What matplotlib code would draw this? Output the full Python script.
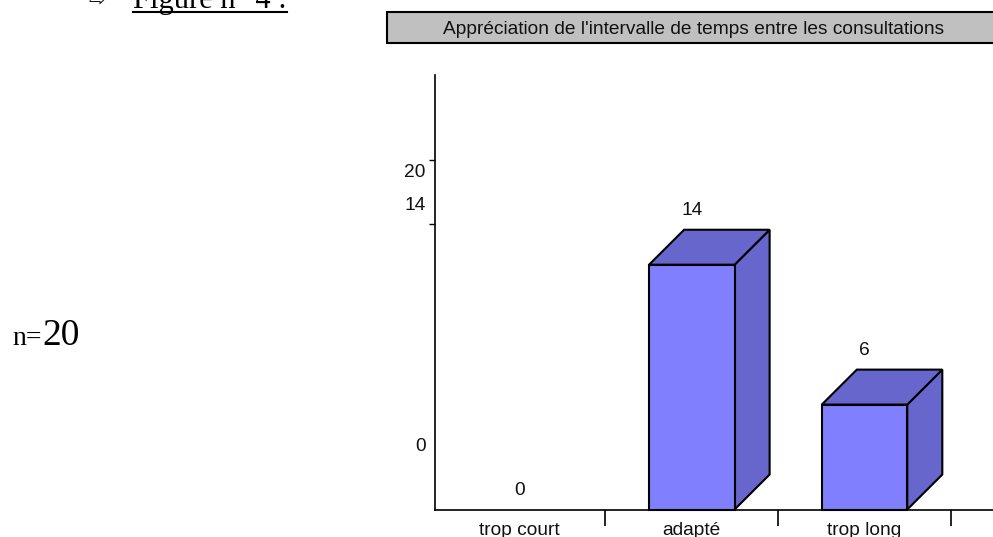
import matplotlib
matplotlib.use('Agg')
import matplotlib.pyplot as plt
from matplotlib.patches import Polygon, Rectangle

# Values
categories = ['trop court', 'adapté', 'trop long']
values = [0, 14, 6]
tick_values = [16.3, 20]
side_labels = ['0', '14', '20']
side_label_pos = [3.6, 17.4, 19.3]

title = "Appréciation de l'intervalle de temps entre les consultations"
front_color = '#8080FF'
side_color = '#6666CC'
W, H = 993, 537

plt.rcParams['font.family'] = ['Liberation Sans', 'DejaVu Sans']
fig = plt.figure(figsize=(W / 100, H / 100), dpi=100)

# axes placed in pixels, y axis at x=434, baseline at y=509
ax = fig.add_axes([434.5 / W, (H - 509.5) / H, (W - 434.5) / W, 434.5 / H])
ax.set_xlim(-0.49, 2.744)
ax.set_ylim(0, 24.85)

bar_w = 0.495
dx = 0.203  # depth of the 3D effect
dy = 2.0

for i, v in enumerate(values):
    # a zero bar is not drawn, only its label
    if v > 0:
        l, r = i - bar_w / 2, i + bar_w / 2
        ax.add_patch(Polygon([(r, 0), (r + dx, dy), (r + dx, v + dy), (r, v)],
                             facecolor=side_color, edgecolor='black', lw=1.5, clip_on=False, zorder=3))
        ax.add_patch(Polygon([(l, v), (l + dx, v + dy), (r + dx, v + dy), (r, v)],
                             facecolor=side_color, edgecolor='black', lw=1.5, clip_on=False, zorder=3))
        ax.add_patch(Rectangle((l, 0), bar_w, v, facecolor=front_color, edgecolor='black',
                               lw=1.5, clip_on=False, zorder=4))
        label_y = v + dy + 1.1
    else:
        label_y = v + 1.1
    ax.text(i, label_y, str(v), ha='center', va='center', fontsize=13.8, color='#111111')

for s, p in zip(side_labels, side_label_pos):
    ax.text(-0.54, p, s, ha='right', va='center', fontsize=13.8, color='#111111')

for side in ['top', 'right']:
    ax.spines[side].set_visible(False)
for side in ['left', 'bottom']:
    ax.spines[side].set_linewidth(1.2)

ax.set_yticks(tick_values)
ax.set_yticklabels([])
ax.tick_params(axis='y', length=4, width=1, direction='out')
ax.set_xticks([0.5, 1.5, 2.5])
ax.set_xticklabels([])
ax.tick_params(axis='x', length=11.5, width=1.2, direction='out')

for i, c in enumerate(categories):
    ax.annotate(c, (i, 0), xytext=(0, -15), textcoords='offset points', ha='center', va='center',
                fontsize=13.8, color='#111111', annotation_clip=False)

# title box across the top
fig.add_artist(Rectangle((387 / W, (H - 43) / H), (W - 387 + 5) / W, 31 / H, transform=fig.transFigure,
                         facecolor='#C0C0C0', edgecolor='black', lw=1.5))
fig.text(694 / W, (H - 29.5) / H, title, ha='center', va='center', fontsize=13.8, color='#111111')

# text from the surrounding document
serif = ['Liberation Serif', 'DejaVu Sans']
fig.text(88 / W, (H - 6) / H, '⇨', fontsize=14, family=['DejaVu Sans'], ha='left', va='baseline')
fig.text(133 / W, (H - 8) / H, 'Figure n° 4 :', fontsize=22, family=serif, ha='left', va='baseline')
fig.add_artist(plt.Line2D([133 / W, 287 / W], [(H - 11.5) / H] * 2, color='black', lw=1.5))
fig.text(12 / W, (H - 345) / H, 'n=', fontsize=20, family=serif, ha='left', va='baseline')
fig.text(42 / W, (H - 345) / H, '20', fontsize=27, family=serif, ha='left', va='baseline')

fig.savefig('out.png', dpi=100)
